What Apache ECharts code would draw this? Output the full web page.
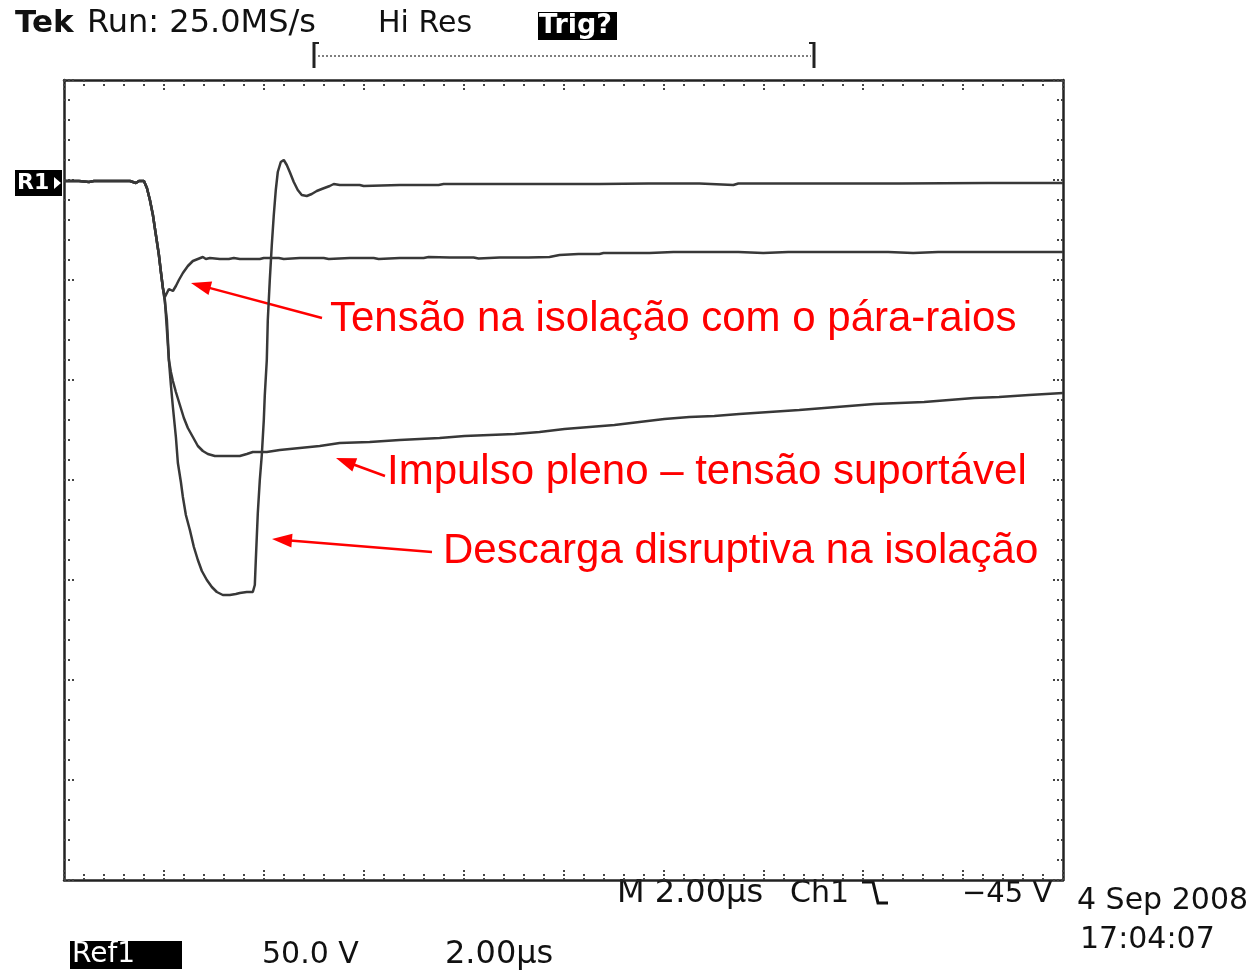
<!DOCTYPE html>
<html>
<head>
<meta charset="utf-8">
<script src="https://cdn.jsdelivr.net/npm/echarts@6/dist/echarts.min.js"></script>
<style>
html,body{margin:0;padding:0;background:#fff;}
#chart{width:1258px;height:972px;}
</style>
</head>
<body>
<div id="chart"></div>
<script>
// Time base: 2.00 µs/div, 10 divisions; vertical: 50.0 V/div, 8 divisions
const timeRange = [0, 20];     // µs
const voltRange = [-350, 50];  // V
const timeStep = 2;
const voltStep = 50;

// Common front of the impulse (µs, V)
const frontCommon = [
  [0,-0.5],[0.3,-0.5],[0.5,-1],[0.6,-0.5],[0.9,-0.5],[1.1,-0.5],[1.32,-0.5],[1.44,-1.5],[1.5,-0.5],[1.6,-0.5],
  [1.66,-4],[1.72,-10],[1.78,-17.5],[1.84,-27.5],[1.90,-37.5],[1.94,-46],[1.98,-54]
];

// Tensão na isolação com o pára-raios
const withArrester = [
  [2.02,-58.5],[2.06,-56.5],[2.10,-54.5],[2.14,-53.5],[2.18,-55.5],[2.24,-53],[2.30,-50],[2.38,-46.5],
  [2.48,-43],[2.58,-40.5],[2.68,-39.5],[2.78,-38.5],[2.84,-39.5],[2.92,-39],[3.12,-39.5],[3.3,-39.5],[3.4,-39],
  [3.52,-39.5],[3.92,-39.5],[4.0,-39],[4.3,-39],[4.4,-39.5],[4.72,-39],[5.2,-39],[5.3,-39.5],[5.72,-39],[6.2,-39],
  [6.3,-39.5],[6.72,-39],[7.2,-39],[7.3,-38.5],[7.72,-38.75],[8.2,-38.75],[8.3,-39.25],[8.72,-38.75],[9.3,-38.75],
  [9.72,-38.5],[9.92,-37.5],[10.3,-37],[10.72,-37],[10.8,-36.5],[11.2,-36.5],[11.72,-36.5],[12.2,-36],
  [12.72,-36],[13.5,-36],[14.0,-36.5],[14.5,-36],[15.5,-36],[16.5,-36],[17.0,-36.5],[17.5,-36],[18.5,-36],
  [19.5,-36],[20,-36]
];

// Impulso pleno – tensão suportável
const fullImpulse = [
  [2.02,-60],[2.04,-67.5],[2.06,-75],[2.08,-82.5],[2.10,-90],[2.14,-96],[2.18,-100.5],[2.24,-106],[2.32,-112.5],
  [2.40,-119],[2.48,-124],[2.58,-128.5],[2.68,-133],[2.78,-135.5],[2.88,-137],[3.02,-138],[3.32,-138],[3.52,-138],
  [3.66,-137],[3.78,-136],[4.06,-136],[4.32,-135],[4.72,-134],[5.12,-133],[5.52,-131.5],[6.12,-131],[6.72,-130],
  [7.52,-129],[8.02,-128],[8.52,-127.5],[9.02,-127],[9.52,-126],[10.02,-124.5],[10.52,-123.5],[11.02,-122.5],
  [11.52,-121],[12.02,-119.5],[12.52,-118.5],[13.02,-118],[13.52,-117],[14.12,-116],[14.72,-115],[15.22,-114],
  [15.72,-113],[16.22,-112],[16.72,-111.5],[17.22,-111],[17.72,-110],[18.22,-109],[18.72,-108.5],[19.32,-107.5],
  [20,-106.5]
];

// Descarga disruptiva na isolação
const chopped = [
  [2.02,-61],[2.06,-70],[2.08,-80],[2.10,-90],[2.14,-102.5],[2.18,-113.5],[2.24,-128.5],[2.28,-141.5],[2.34,-151],
  [2.38,-158.5],[2.44,-167.5],[2.52,-175],[2.60,-183.5],[2.68,-190],[2.76,-195.5],[2.86,-200],[2.96,-203.5],
  [3.06,-206],[3.18,-207.5],[3.32,-207.5],[3.44,-207],[3.52,-206.5],[3.66,-206],[3.78,-206],[3.82,-202.5],
  [3.84,-190],[3.88,-166.5],[3.92,-150],[3.96,-137.5],[4.00,-120],[4.02,-107.5],[4.06,-90],[4.08,-70],[4.12,-50],
  [4.16,-32.5],[4.20,-17.5],[4.24,-5],[4.28,4],[4.34,9],[4.40,10],[4.46,7.5],[4.52,4],[4.60,-1],[4.68,-5],
  [4.76,-7.5],[4.86,-8],[4.96,-7],[5.06,-5.5],[5.16,-4.5],[5.32,-3],[5.40,-2],[5.52,-2.5],[5.92,-2.5],[6.0,-3],
  [6.72,-2.5],[7.5,-2.5],[7.6,-2],[8.72,-2],[9.7,-2],[10.72,-2],[11.7,-1.75],[12.72,-1.75],[13.4,-2.5],
  [13.5,-1.75],[14.72,-1.75],[16.72,-1.75],[18.5,-1.5],[20,-1.5]
];

const traceColor = '#383838';
const chart = echarts.init(document.getElementById('chart'), null, {renderer:'canvas'});

const tickStyle = {show:true, inside:true, length:11, lineStyle:{color:'#444', width:2, type:[2,2]}};
const minorStyle = {show:true, splitNumber:5, length:6, lineStyle:{color:'#444', width:2, type:[2,2]}};
function xAx(pos){
  return {type:'value', position:pos, min:timeRange[0], max:timeRange[1], interval:timeStep,
    axisLine:{show:true, onZero:false, lineStyle:{color:'#222', width:2.5}},
    axisTick:tickStyle, minorTick:minorStyle, axisLabel:{show:false}, splitLine:{show:false}};
}
function yAx(pos){
  return {type:'value', position:pos, min:voltRange[0], max:voltRange[1], interval:voltStep,
    axisLine:{show:true, onZero:false, lineStyle:{color:'#222', width:2.5}},
    axisTick:tickStyle, minorTick:minorStyle, axisLabel:{show:false}, splitLine:{show:false}};
}

function arrow(x1,y1,x2,y2){
  const dx=x2-x1, dy=y2-y1, L=Math.hypot(dx,dy), ux=dx/L, uy=dy/L;
  const hl=20, hw=7;
  const bx=x2-ux*hl, by=y2-uy*hl, px=-uy, py=ux;
  return [
    {type:'line', shape:{x1:x1,y1:y1,x2:bx+ux*2,y2:by+uy*2}, style:{stroke:'#ff0000', lineWidth:2.5}},
    {type:'polygon', shape:{points:[[x2,y2],[bx+px*hw,by+py*hw],[bx-px*hw,by-py*hw]]}, style:{fill:'#ff0000'}}
  ];
}

const scopeFont = '"DejaVu Sans",sans-serif';
function stxt(x,y,t,size,opt){
  return {type:'text', x:x, y:y, style:Object.assign({text:t, fill:'#111', font:size+'px '+scopeFont, textVerticalAlign:'middle'}, opt||{})};
}
const redFont = '42px "Liberation Sans", Arial, sans-serif';

const graphics = [
  // header
  stxt(15,24,'Tek',32,{font:'bold 31px '+scopeFont}),
  stxt(87,24,'Run: 25.0MS/s',32),
  stxt(378,24,'Hi Res',30),
  {type:'rect', shape:{x:538,y:12,width:79,height:28}, style:{fill:'#000'}},
  stxt(539,26,'Trig?',27,{fill:'#fff', font:'bold 27px '+scopeFont}),
  // record bracket
  {type:'line', shape:{x1:314,y1:42,x2:314,y2:68}, style:{stroke:'#222', lineWidth:3}},
  {type:'line', shape:{x1:314,y1:43,x2:319,y2:43}, style:{stroke:'#222', lineWidth:2}},
  {type:'line', shape:{x1:318,y1:56,x2:811,y2:56}, style:{stroke:'#555', lineWidth:1.5, lineDash:[2,2]}},
  {type:'line', shape:{x1:814,y1:42,x2:814,y2:68}, style:{stroke:'#222', lineWidth:3}},
  {type:'line', shape:{x1:809,y1:43,x2:814,y2:43}, style:{stroke:'#222', lineWidth:2}},
  // R1 marker
  {type:'rect', shape:{x:15,y:170,width:47,height:26}, style:{fill:'#000'}},
  stxt(17,183,'R1',22,{fill:'#fff', font:'bold 22px '+scopeFont}),
  {type:'polygon', shape:{points:[[54,177],[61,183],[54,189]]}, style:{fill:'#fff'}},
  // bottom readouts
  stxt(617,894,'M 2.00µs',32),
  stxt(790,894,'Ch1',30),
  {type:'polyline', shape:{points:[[862,882],[873,882],[878,903],[888,903]]}, style:{stroke:'#111', lineWidth:3, fill:null}},
  stxt(962,894,'\u221245 V',29),
  stxt(1077,901,'4 Sep 2008',30),
  stxt(1080,940,'17:04:07',30),
  {type:'rect', shape:{x:70,y:941,width:112,height:28}, style:{fill:'#000'}},
  stxt(72,955,'Ref1',28,{fill:'#fff'}),
  stxt(262,955,'50.0 V',30),
  stxt(445,955,'2.00µs',32),
  // annotations
  {type:'text', x:330, y:319, style:{text:'Tensão na isolação com o pára-raios', fill:'#ff0000', font:redFont, textVerticalAlign:'middle'}},
  {type:'text', x:387, y:472, style:{text:'Impulso pleno – tensão suportável', fill:'#ff0000', font:redFont, textVerticalAlign:'middle'}},
  {type:'text', x:443, y:551, style:{text:'Descarga disruptiva na isolação', fill:'#ff0000', font:redFont, textVerticalAlign:'middle'}}
].concat(arrow(322,318,191,283), arrow(385,476,336,458), arrow(432,552,272,539));

function mkSeries(name, body){
  return {name:name, type:'line', xAxisIndex:0, yAxisIndex:0, showSymbol:false, animation:false,
    lineStyle:{color:traceColor, width:2.5}, data:frontCommon.concat(body), z:3};
}

chart.setOption({
  backgroundColor:'#fff',
  animation:false,
  grid:{left:64, top:80, width:999, height:800, containLabel:false},
  xAxis:[xAx('bottom'), xAx('top')],
  yAxis:[yAx('left'), yAx('right')],
  series:[
    mkSeries('Tensão na isolação com o pára-raios', withArrester),
    mkSeries('Impulso pleno – tensão suportável', fullImpulse),
    mkSeries('Descarga disruptiva na isolação', chopped)
  ],
  graphic:graphics
});
</script>
</body>
</html>
